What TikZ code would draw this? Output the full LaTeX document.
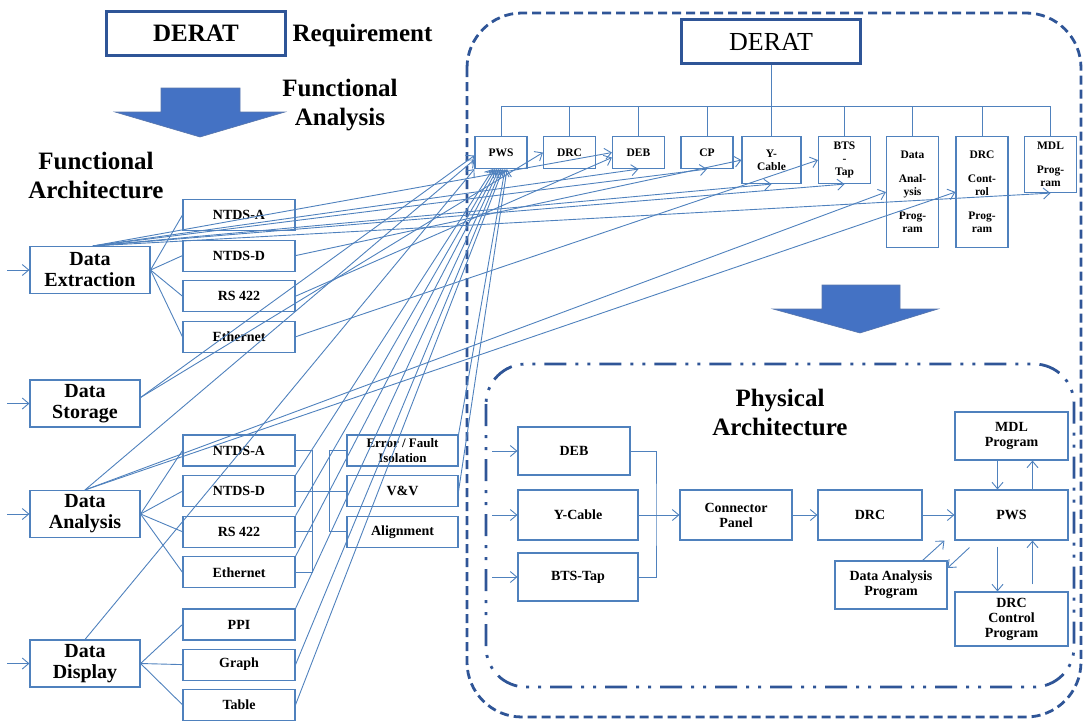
\documentclass[tikz,border=0pt]{standalone}
\usepackage{fontspec}
\setmainfont{Liberation Serif}
\usetikzlibrary{positioning, arrows.meta}

\definecolor{boxblue}{RGB}{79,129,189}
\definecolor{frameblue}{RGB}{47,85,151}
\definecolor{fillblue}{RGB}{68,114,196}

\tikzset{
  block/.style={draw=boxblue, line width=1.1pt, align=center, inner sep=1pt, font=\fontsize{14}{15}\selectfont\bfseries},
  mainblock/.style={block, minimum width=110pt, minimum height=47pt, font=\fontsize{20}{21}\selectfont\bfseries},
  subblock/.style={block, minimum width=112pt, minimum height=31pt},
  partblock/.style={block, anchor=north, minimum width=52pt, minimum height=32pt, font=\fontsize{11.5}{13}\selectfont\bfseries},
  physblock/.style={block, minimum width=112pt, minimum height=48pt},
  headline/.style={font=\fontsize{25}{29}\selectfont\bfseries, align=center},
  link/.style={draw=boxblue, line width=0.9pt},
  pfeil/.style={link, -{Straight Barb[length=6.5pt,width=11pt]}},
  bigarrow/.style={fill=fillblue, draw=frameblue!80, line width=0.6pt},
}

\begin{document}
\begin{tikzpicture}[x=1pt, y=-1pt]
	\useasboundingbox (0,0) rectangle (1084,720);
	
	% Requirement and functional analysis
	\node[draw=frameblue, line width=2.6pt, minimum width=179pt, minimum height=44pt, font=\fontsize{25}{25}\selectfont\bfseries] (req) at (196,33.5) {DERAT};
	\node[anchor=west, font=\fontsize{25}{25}\selectfont\bfseries] (reqtxt) at (289,35) {Requirement};
	\draw[bigarrow] (161,88) -- (240,88) -- (240,112) -- (285,112) -- (200,137) -- (115,112) -- (161,112) -- cycle;
	\node[headline] (fana) at (340,105) {Functional\\Analysis};
	\node[headline] (farch) at (96,175) {Functional\\Architecture};
	
	% Functional architecture
	\node[mainblock, minimum width=120pt] (de) at (90,270) {Data\\Extraction};
	\node[subblock] (ea) at (239,215) {NTDS-A};
	\node[subblock, below=8.5pt of ea] (ed) {NTDS-D};
	\node[subblock, below=8.5pt of ed] (er) {RS 422};
	\node[subblock, below=8.5pt of er] (ee) {Ethernet};
	
	\node[mainblock] (ds) at (85,403.5) {Data\\Storage};
	
	\node[mainblock] (da) at (85,514) {Data\\Analysis};
	\node[subblock] (aa) at (239,450.5) {NTDS-A};
	\node[subblock, below=8.5pt of aa] (ad) {NTDS-D};
	\node[subblock, below=8.5pt of ad] (ar) {RS 422};
	\node[subblock, below=8.5pt of ar] (ae) {Ethernet};
	\node[subblock, minimum width=111pt, font=\fontsize{13}{14.5}\selectfont\bfseries] (err) at (402.5,450.5) {Error / Fault\\Isolation};
	\node[subblock, minimum width=111pt, below=8.5pt of err] (vv) {V\&V};
	\node[subblock, minimum width=111pt, below=8.5pt of vv] (align) {Alignment};
	
	\node[mainblock] (dd) at (85,663.5) {Data\\Display};
	\node[subblock] (ppi) at (239,624.5) {PPI};
	\node[subblock, below=8pt of ppi] (graph) {Graph};
	\node[subblock, below=8pt of graph] (table) {Table};
	
	\foreach \b in {de,ds,da,dd}
		\draw[pfeil] ([xshift=-22pt]\b.west) -- (\b.west);
	\foreach \b in {ea,ed,er,ee}
		\draw[link] (de.east) -- (\b.west);
	\foreach \b in {aa,ad,ar,ae}
		\draw[link] (da.east) -- (\b.west);
	\foreach \b in {ppi,graph,table}
		\draw[link] (dd.east) -- (\b.west);
	
	\draw[link] (aa.east) -- ++(17,0) |- (ae.east);
	\draw[link] (ar.east) -- ++(17,0);
	\draw[link] (ad.east) -- (vv.west);
	\draw[link] (err.west) -- ++(-17,0) |- (align.west);
	
	% DERAT system
	\draw[frameblue, line width=2.8pt, dash pattern=on 9pt off 5pt, rounded corners=55pt] (467,13) rectangle (1081,717);
	\node[draw=frameblue, line width=3pt, minimum width=179pt, minimum height=44pt, font=\fontsize{26}{26}\selectfont] (derat) at (771,41.5) {DERAT};
	
	\node[partblock] (tpws) at (501,136) {PWS};
	\node[partblock] (tdrc) at (569.5,136) {DRC};
	\node[partblock] (tdeb) at (638.5,136) {DEB};
	\node[partblock] (tcp) at (707,136) {CP};
	\node[partblock, minimum width=59pt, minimum height=47pt] (tyc) at (771.5,136) {Y-\\Cable};
	\node[partblock, minimum height=47pt] (tbts) at (844.5,136) {BTS\\-\\Tap};
	\node[partblock, minimum height=111pt] (tdap) at (912.5,136) {Data\\[11pt]Anal-\\ysis\\[11pt]Prog-\\ram};
	\node[partblock, minimum height=111pt] (tdcp) at (982,136) {DRC\\[11pt]Cont-\\rol\\[11pt]Prog-\\ram};
	\node[partblock, minimum height=56pt] (tmdl) at (1050.5,136) {MDL\\[11pt]Prog-\\ram};
	
	\draw[link] (derat.south) -- ++(0,42.5);
	\draw[link] (tpws.north) -- ++(0,-30) -| (tmdl.north);
	\foreach \t in {tdrc,tdeb,tcp,tyc,tbts,tdap,tdcp}
		\draw[link] (\t.north) -- ++(0,-30);
	
	% Functions mapped onto parts
	\coordinate (deTop) at ([xshift=3pt]de.north);
	\foreach \t in {tdeb.west, tdeb.south, tcp.south, tyc.south, tbts.south, tmdl.south}
		\draw[pfeil] (deTop) -- (\t);
	\draw[pfeil] (ed.east) -- (tyc.west);
	\draw[pfeil] (er.east) -- ([yshift=-5pt]tdeb.west);
	\draw[pfeil] (ee.east) -- (tbts.west);
	\draw[pfeil] ([yshift=6pt]ds.east) -- ([yshift=-3pt]tpws.west);
	\draw[pfeil] ([yshift=6pt]ds.east) -- (tdrc.west);
	\draw[pfeil] (da.north) -- ([yshift=-7pt]tpws.west);
	\draw[pfeil] (da.north) -- (tdap.west);
	\draw[pfeil] (da.north) -- (tdcp.west);
	\draw[pfeil] (dd.north) -- (tpws.south west);
	\foreach \s/\d in {ad.north east/-8, ar.north east/-6, ae.north east/-4, ppi.north east/-2, graph.east/0, table.east/2, err.north east/4, vv.east/6}
		\draw[pfeil] (\s) -- ([xshift=\d pt]tpws.south);
	
	% Physical architecture
	\draw[bigarrow] (822,285) -- (900,285) -- (900,309) -- (938,309) -- (860,333) -- (773,309) -- (822,309) -- cycle;
	\draw[frameblue, line width=2.8pt, dash pattern=on 22pt off 9pt on 3pt off 9pt on 3pt off 9pt, rounded corners=40pt] (486,364) rectangle (1074,687);
	\node[headline] (phys) at (780,412) {Physical\\Architecture};
	
	\node[physblock] (pdeb) at (574,451) {DEB};
	\node[physblock, minimum width=120pt, minimum height=50pt] (pyc) at (578,515) {Y-Cable};
	\node[physblock, minimum width=120pt] (pbts) at (578,577) {BTS-Tap};
	\node[physblock, minimum height=50pt] (pcp) at (736,515) {Connector\\Panel};
	\node[physblock, minimum width=104pt, minimum height=50pt] (pdrc) at (870,515) {DRC};
	\node[physblock, minimum width=113pt, minimum height=50pt] (ppws) at (1011.5,515) {PWS};
	\node[physblock, minimum width=113pt] (pmdl) at (1011.5,436) {MDL\\Program};
	\node[physblock, minimum width=113pt, minimum height=54pt] (pdcp) at (1011.5,619) {DRC\\Control\\Program};
	\node[physblock] (pdap) at (891,585) {Data Analysis\\Program};
	
	\foreach \b in {pdeb,pyc,pbts}
		\draw[pfeil] ([xshift=-25pt]\b.west) -- (\b.west);
	\coordinate (join) at (656,515);
	\draw[link] (pdeb.east) -| (join) |- (pbts.east);
	\draw[pfeil] (pyc.east) -- (pcp.west);
	\draw[pfeil] (pcp) -- (pdrc);
	\draw[pfeil] (pdrc) -- (ppws);
	\draw[pfeil] ([xshift=-14pt]pmdl.south) -- ([xshift=-14pt]ppws.north);
	\draw[pfeil] ([xshift=21pt]ppws.north) -- ([xshift=21pt]pmdl.south);
	\draw[pfeil] ([xshift=-14pt,yshift=-6pt]ppws.south) -- ([xshift=-14pt]pdcp.north);
	\draw[pfeil] ([xshift=21pt,yshift=7pt]pdcp.north) -- ([xshift=21pt]ppws.south);
	\draw[pfeil] ([xshift=-25pt]pdap.north east) -- ([xshift=-10pt]ppws.south west);
	\draw[pfeil] ([xshift=15pt,yshift=-7pt]ppws.south west) -- ([yshift=17pt]pdap.east);
\end{tikzpicture}
\end{document}
